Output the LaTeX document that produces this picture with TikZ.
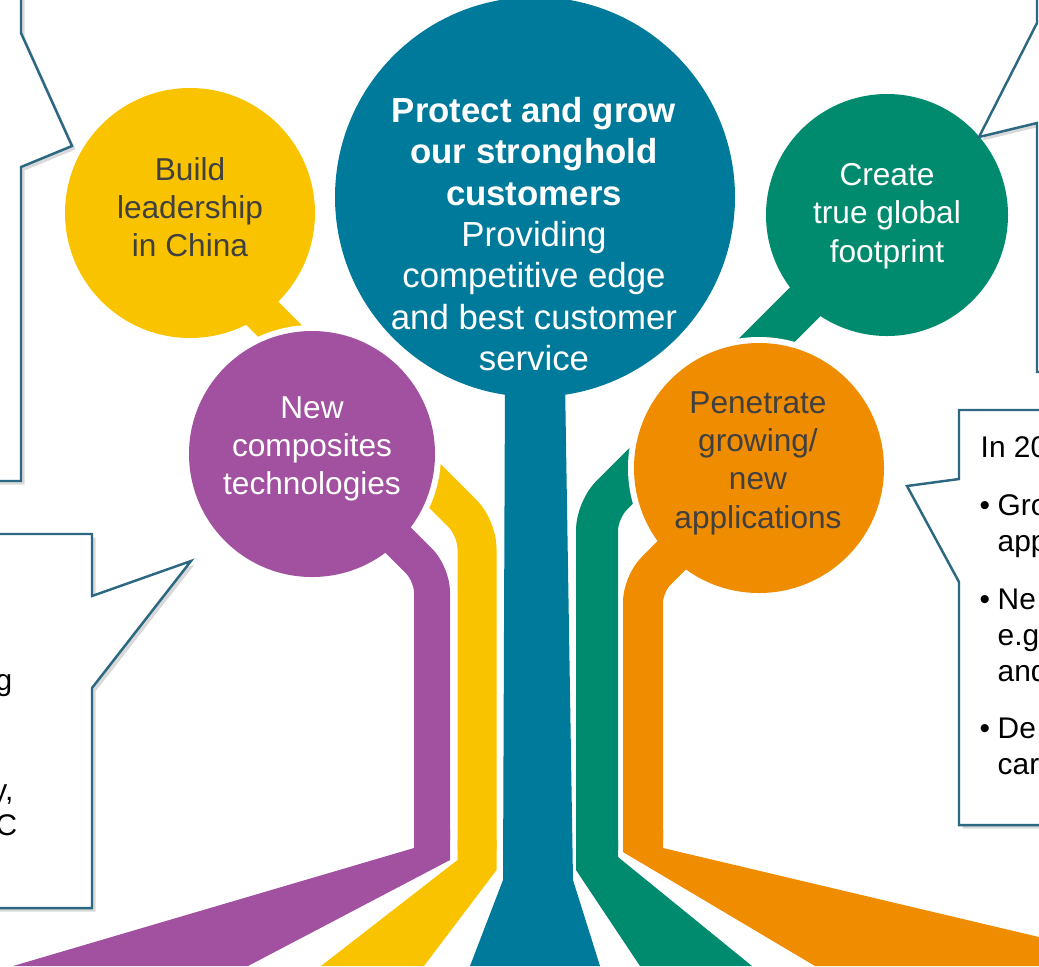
\documentclass[tikz,border=0pt]{standalone}
\usepackage{fontspec}
\setmainfont{Liberation Sans}
\usetikzlibrary{shadows}
\pgfdeclarelayer{backlayer}
\pgfdeclarelayer{edgelayer}
\pgfdeclarelayer{nodelayer}
\pgfsetlayers{backlayer,edgelayer,nodelayer,main}
\definecolor{yellowc}{RGB}{250,195,0}
\definecolor{tealc}{RGB}{0,122,155}
\definecolor{greenc}{RGB}{0,139,110}
\definecolor{purplec}{RGB}{161,81,159}
\definecolor{orangec}{RGB}{240,140,0}
\definecolor{darktext}{RGB}{64,64,64}
\definecolor{calloutc}{RGB}{44,104,130}
\tikzstyle{none}=[inner sep=0pt]
\tikzstyle{ball}=[circle,inner sep=0pt]
\tikzstyle{balltext}=[align=center,inner sep=0pt,font=\fontsize{9}{10.9}\selectfont]
\tikzstyle{stem}=[line cap=butt,line join=round]
\tikzstyle{callout}=[draw=calloutc,line width=0.7pt,fill=white,drop shadow={opacity=0.3,shadow xshift=0.035cm,shadow yshift=-0.035cm}]
\tikzstyle{calltext}=[inner sep=0pt,font=\fontsize{8.5}{10.2}\selectfont]
\newcommand{\bul}{\makebox[0.18cm][l]{\textbullet}}

\begin{document}
\begin{tikzpicture}
	\useasboundingbox (0,0) rectangle (10.39,-9.66);
	\begin{pgfonlayer}{nodelayer}
		\node [style=ball, fill=yellowc, minimum size=2.50cm] (china) at (1.90,-2.13) {};
		\node [style=ball, fill=tealc, minimum size=4.00cm] (core) at (5.35,-1.97) {};
		\node [style=ball, fill=greenc, minimum size=2.42cm] (global) at (8.87,-2.15) {};
		\node [style=ball, fill=purplec, minimum size=2.46cm] (compos) at (3.12,-4.54) {};
		\node [style=ball, fill=orangec, minimum size=2.50cm] (apps) at (7.59,-4.68) {};
		\node [style=none] (ystart) at (1.90,-2.41) {};
		\node [style=none] (ybend) at (4.77,-5.28) {};
		\node [style=none] (yfoot) at (4.77,-8.50) {};
		\node [style=none] (gstart) at (8.87,-2.20) {};
		\node [style=none] (gbend) at (5.97,-5.10) {};
		\node [style=none] (gfoot) at (5.97,-8.50) {};
		\node [style=none] (pbend) at (4.32,-5.74) {};
		\node [style=none] (pfoot) at (4.32,-8.40) {};
		\node [style=none] (obend) at (6.43,-5.84) {};
		\node [style=none] (ofoot) at (6.43,-8.40) {};
	\end{pgfonlayer}
	\begin{pgfonlayer}{backlayer}
		\draw [style=stem, draw=yellowc, line width=0.39cm, rounded corners=0.2cm] (ystart.center) -- (ybend.center) -- (yfoot.center);
		\draw [style=stem, draw=greenc, line width=0.42cm, rounded corners=0.2cm] (gstart.center) -- (gbend.center) -- (gfoot.center);
		\fill [tealc] (5.05,-3.80) -- (5.65,-3.80) -- (5.73,-8.80) -- (6.00,-9.66) -- (4.70,-9.66) -- (5.03,-8.80) -- cycle;
		\fill [white] (compos.center) circle (1.29);
		\fill [white] (apps.center) circle (1.31);
	\end{pgfonlayer}
	\begin{pgfonlayer}{edgelayer}
		\draw [style=stem, draw=purplec, line width=0.36cm, rounded corners=0.18cm] (compos.center) -- (pbend.center) -- (pfoot.center);
		\draw [style=stem, draw=orangec, line width=0.40cm, rounded corners=0.18cm] (apps.center) -- (obend.center) -- (ofoot.center);
		% feet
		\fill [yellowc] (4.575,-8.40) -- (4.965,-8.40) -- (4.965,-8.70) -- (4.24,-9.66) -- (3.21,-9.66) -- (4.575,-8.60) -- cycle;
		\fill [greenc] (5.76,-8.40) -- (6.18,-8.40) -- (6.18,-8.57) -- (7.52,-9.66) -- (6.40,-9.66) -- (5.76,-8.70) -- cycle;
		\fill [purplec] (4.14,-8.30) -- (4.50,-8.30) -- (4.50,-8.60) -- (2.48,-9.66) -- (0.13,-9.66) -- (4.14,-8.48) -- cycle;
		\fill [orangec] (6.23,-8.30) -- (6.63,-8.30) -- (6.63,-8.48) -- (10.39,-9.37) -- (10.39,-9.66) -- (8.15,-9.66) -- (6.23,-8.52) -- cycle;
	\end{pgfonlayer}

	% circle texts
	\node [style=balltext, text=darktext] (tchina) at (1.90,-2.07) {Build\\leadership\\in China};
	\node [style=balltext, text=white, font=\fontsize{9.9}{11.76}\selectfont] (tcore) at (5.34,-2.34) {\textbf{Protect and grow}\\\textbf{our stronghold}\\\textbf{customers}\\Providing\\competitive edge\\and best customer\\service};
	\node [style=balltext, text=white] (tglobal) at (8.87,-2.16) {Create\\true global\\footprint};
	\node [style=balltext, text=white] (tcompos) at (3.12,-4.49) {New\\composites\\technologies};
	\node [style=balltext, text=darktext] (tapps) at (7.58,-4.63) {Penetrate\\growing/\\new\\applications};

	% callouts
	\draw [style=callout] (-0.5,0.5) -- (0.21,0.5) -- (0.21,-0.33) -- (0.72,-1.46) -- (0.21,-1.67) -- (0.21,-4.81) -- (-0.5,-4.81) -- cycle;
	\draw [style=callout] (-0.5,-5.34) -- (0.92,-5.34) -- (0.92,-5.96) -- (1.91,-5.61) -- (0.92,-6.88) -- (0.92,-9.08) -- (-0.5,-9.08) -- cycle;
	\draw [style=callout] (11,-4.10) -- (9.59,-4.10) -- (9.59,-4.79) -- (9.07,-4.86) -- (9.59,-5.82) -- (9.59,-8.25) -- (11,-8.25) -- cycle;
	\draw [style=callout] (11,0.5) -- (10.37,0.5) -- (10.37,-0.23) -- (9.79,-1.37) -- (10.37,-1.23) -- (10.37,-3.72) -- (11,-3.72) -- cycle;

	\node [style=calltext, anchor=base east] (l1) at (0.13,-6.90) {g};
	\node [style=calltext, anchor=base east] (l2) at (0.14,-8.00) {y,};
	\node [style=calltext, anchor=base east] (l3) at (0.18,-8.35) {C};

	\node [style=calltext, anchor=base west] (r0) at (9.80,-4.57) {In 20};
	\node [style=calltext, anchor=base west] (r1) at (9.79,-5.15) {\bul Gro};
	\node [style=calltext, anchor=base west] (r2) at (9.97,-5.51) {app};
	\node [style=calltext, anchor=base west] (r3) at (9.79,-6.09) {\bul Ne};
	\node [style=calltext, anchor=base west] (r4) at (9.97,-6.45) {e.g};
	\node [style=calltext, anchor=base west] (r5) at (9.97,-6.81) {and};
	\node [style=calltext, anchor=base west] (r6) at (9.79,-7.38) {\bul De};
	\node [style=calltext, anchor=base west] (r7) at (9.97,-7.74) {car};
\end{tikzpicture}
\end{document}
